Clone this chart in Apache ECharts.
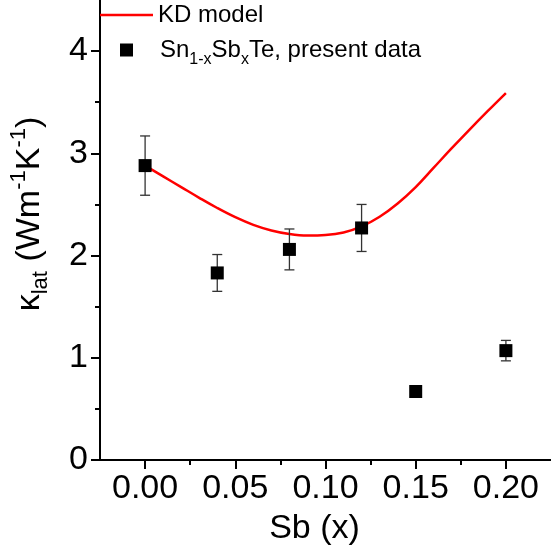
<!DOCTYPE html>
<html>
<head>
<meta charset="utf-8">
<script src="https://cdn.jsdelivr.net/npm/echarts@6/dist/echarts.min.js"></script>
<style>
  html, body { margin: 0; padding: 0; background: #fff; }
  #chart { width: 551px; height: 560px; }
</style>
</head>
<body>
<div id="chart"></div>
<script>
// measured points (x = Sb fraction)
var sbX = [0.00, 0.04, 0.08, 0.12, 0.15, 0.20];
var kappaLat = [2.88, 1.83, 2.06, 2.27, 0.67, 1.07];
var kappaErr = [0.29, 0.18, 0.20, 0.23, 0.03, 0.10];

// KD model curve
var modelX = [0.00, 0.01, 0.02, 0.03, 0.04, 0.05, 0.06, 0.07, 0.08, 0.09, 0.10,
              0.11, 0.12, 0.13, 0.14, 0.15, 0.16, 0.17, 0.18, 0.19, 0.20];
var modelY = [2.88, 2.775, 2.67, 2.565, 2.465, 2.375, 2.30, 2.245, 2.21, 2.195, 2.20,
              2.225, 2.285, 2.38, 2.51, 2.67, 2.86, 3.05, 3.235, 3.415, 3.59];

var xTicks = [0, 0.05, 0.10, 0.15, 0.20];
var xMinorTicks = [0.025, 0.075, 0.125, 0.175];
var yTicks = [0, 1, 2, 3, 4];
var yMinorTicks = [0.5, 1.5, 2.5, 3.5];

var FONT = "'Liberation Sans', Arial, sans-serif";

var pts = sbX.map(function (x, i) { return [x, kappaLat[i]]; });
var bars = sbX.map(function (x, i) { return [x, kappaLat[i] - kappaErr[i], kappaLat[i] + kappaErr[i]]; });
var curve = modelX.map(function (x, i) { return [x, modelY[i]]; });

var chart = echarts.init(document.getElementById('chart'), null, {renderer: 'canvas'});

var option = {
    animation: false,
    backgroundColor: '#ffffff',
    textStyle: {fontFamily: FONT},
    grid: {left: 100, right: -7, top: 0, bottom: 100, containLabel: false},
    legend: [
        {
            left: 100, top: 0, padding: 0,
            itemWidth: 53, itemHeight: 2.5,
            data: [{name: 'KD model', icon: 'rect'}],
            textStyle: {fontFamily: FONT, fontSize: 24, color: '#000', lineHeight: 30}
        },
        {
            left: 120, top: 32, padding: 0,
            itemWidth: 13, itemHeight: 13,
            data: [{name: 'data', icon: 'rect'}],
            formatter: function () {
                return '{sp|}Sn{sub|1-x}Sb{sub|x}Te, present data';
            },
            textStyle: {
                fontFamily: FONT, fontSize: 24, color: '#000', lineHeight: 36,
                rich: {
                    sp: {width: 22},
                    sub: {fontFamily: FONT, fontSize: 16, lineHeight: 16, verticalAlign: 'bottom', color: '#000'}
                }
            }
        }
    ],
    xAxis: [
        {
            type: 'value', min: -0.025, max: 0.225,
            name: 'Sb (x)', nameLocation: 'middle', nameGap: 52,
            nameTextStyle: {fontFamily: FONT, fontSize: 34, color: '#000', padding: [0, 22, 0, 0]},
            axisLine: {show: true, onZero: false, lineStyle: {color: '#000', width: 2}},
            axisTick: {show: true, length: 9, lineStyle: {color: '#000', width: 2}, customValues: xTicks},
            axisLabel: {
                fontFamily: FONT, fontSize: 34, color: '#000', margin: 12,
                customValues: xTicks,
                formatter: function (v) { return v.toFixed(2); }
            },
            splitLine: {show: false}
        },
        {
            type: 'value', min: -0.025, max: 0.225, position: 'bottom',
            axisLine: {show: false, onZero: false},
            axisTick: {show: true, length: 5, lineStyle: {color: '#000', width: 2}, customValues: xMinorTicks},
            axisLabel: {show: false},
            splitLine: {show: false}
        }
    ],
    yAxis: [
        {
            type: 'value', min: 0, max: 4.5,
            name: '{k|κ}{sub|lat}{a| (Wm}{sup|-1}{a|K}{sup|-1}{a|)}',
            nameLocation: 'middle', nameRotate: 90, nameGap: 48,
            nameTextStyle: {
                fontFamily: FONT, fontSize: 34, color: '#000', padding: [0, 0, 0, 32],
                rich: {
                    k: {fontFamily: FONT, fontSize: 34, lineHeight: 44, color: '#000'},
                    a: {fontFamily: FONT, fontSize: 34, lineHeight: 44, color: '#000'},
                    sub: {fontFamily: FONT, fontSize: 22, lineHeight: 22, verticalAlign: 'bottom', color: '#000'},
                    sup: {fontFamily: FONT, fontSize: 22, lineHeight: 22, verticalAlign: 'top', color: '#000'}
                }
            },
            axisLine: {show: true, onZero: false, lineStyle: {color: '#000', width: 2}},
            axisTick: {show: true, length: 9, lineStyle: {color: '#000', width: 2}, customValues: yTicks},
            axisLabel: {fontFamily: FONT, fontSize: 34, color: '#000', margin: 12, customValues: yTicks},
            splitLine: {show: false}
        },
        {
            type: 'value', min: 0, max: 4.5, position: 'left',
            axisLine: {show: false, onZero: false},
            axisTick: {show: true, length: 5, lineStyle: {color: '#000', width: 2}, customValues: yMinorTicks},
            axisLabel: {show: false},
            splitLine: {show: false}
        }
    ],
    series: [
        {
            name: 'KD model', type: 'line', data: curve,
            xAxisIndex: 0, yAxisIndex: 0,
            smooth: 0.4, showSymbol: false, symbol: 'none',
            lineStyle: {color: '#ff0000', width: 2.5},
            itemStyle: {color: '#ff0000'},
            z: 2
        },
        {
            name: 'errors', type: 'custom', data: bars,
            xAxisIndex: 0, yAxisIndex: 0,
            encode: {x: 0, y: [1, 2]},
            renderItem: function (params, api) {
                var lo = api.coord([api.value(0), api.value(1)]);
                var hi = api.coord([api.value(0), api.value(2)]);
                var cap = 5;
                var st = {stroke: '#333', lineWidth: 1.3};
                return {
                    type: 'group',
                    children: [
                        {type: 'line', shape: {x1: lo[0], y1: lo[1], x2: hi[0], y2: hi[1]}, style: st},
                        {type: 'line', shape: {x1: lo[0] - cap, y1: lo[1], x2: lo[0] + cap, y2: lo[1]}, style: st},
                        {type: 'line', shape: {x1: hi[0] - cap, y1: hi[1], x2: hi[0] + cap, y2: hi[1]}, style: st}
                    ]
                };
            },
            z: 3
        },
        {
            name: 'data', type: 'scatter', data: pts,
            xAxisIndex: 0, yAxisIndex: 0,
            symbol: 'rect', symbolSize: 13,
            itemStyle: {color: '#000', opacity: 1},
            z: 4
        }
    ]
};

chart.setOption(option);
</script>
</body>
</html>
